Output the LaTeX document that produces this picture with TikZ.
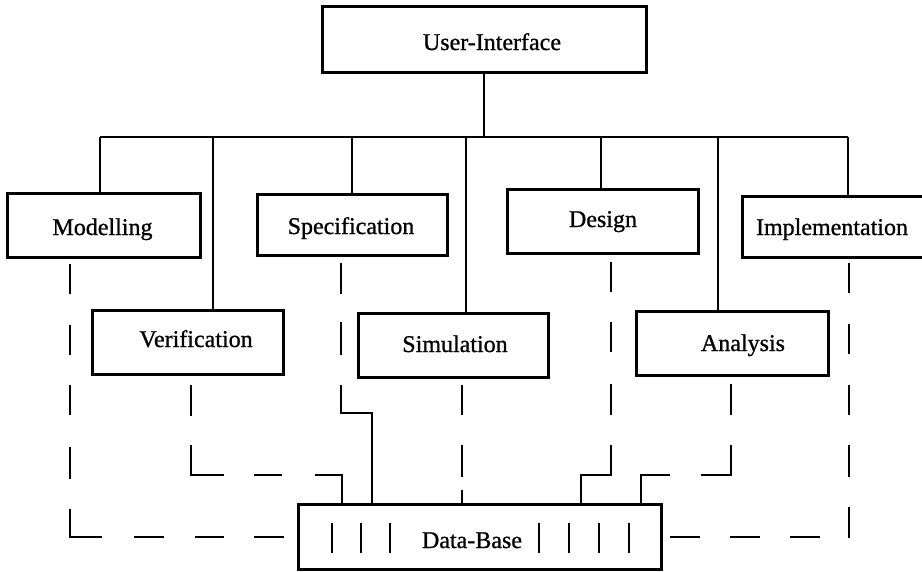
\documentclass[tikz,border=0pt]{standalone}
\usepackage{fontspec}
\setmainfont{Liberation Serif}
\newfontfamily\boxfont{Liberation Serif}[FakeBold=0.9]
\begin{document}
\begin{tikzpicture}[x=1pt,y=-1pt,
  box/.style={draw, line width=3pt, rectangle, inner sep=0pt},
  lbl/.style={anchor=base, inner sep=0pt, font=\boxfont\fontsize{24}{28}\selectfont},
  link/.style={line width=1.4pt},
  dlink/.style={line width=1.4pt, line cap=butt},
  tick/.style={line width=1.5pt}]
\useasboundingbox (0,0) rectangle (922,571);
\clip (0,0) rectangle (922,571);

% boxes
\node[box, minimum width=324pt, minimum height=66pt] (ui)  at (484,39)    {};
\node[box, minimum width=193pt, minimum height=64pt] (mod) at (103.5,225) {};
\node[box, minimum width=190pt, minimum height=61pt] (spe) at (352,224.5) {};
\node[box, minimum width=191pt, minimum height=64pt] (des) at (602.5,221) {};
\node[box, minimum width=213pt, minimum height=61pt] (imp) at (848.5,226.5) {};
\node[box, minimum width=191pt, minimum height=64pt] (ver) at (187.5,342) {};
\node[box, minimum width=190pt, minimum height=64pt] (sim) at (453,345)   {};
\node[box, minimum width=192pt, minimum height=64pt] (ana) at (732,343)   {};
\node[box, minimum width=363pt, minimum height=65pt] (db)  at (479.5,536.5) {};

% labels
\node[lbl] (ui-t)  at (492,50)    {User-Interface};
\node[lbl] (mod-t) at (102.5,235) {Modelling};
\node[lbl] (spe-t) at (351,234)   {Specification};
\node[lbl] (des-t) at (603,227)   {Design};
\node[lbl] (imp-t) at (832,235)   {Implementation};
\node[lbl] (ver-t) at (196,347)   {Verification};
\node[lbl] (sim-t) at (455,352)   {Simulation};
\node[lbl] (ana-t) at (743,351)   {Analysis};
\node[lbl] (db-t)  at (472,548)   {Data-Base};

% bus from the user interface to every tool
\coordinate (b-mod) at (100,137);
\coordinate (b-ver) at (213,137);
\coordinate (b-spe) at (352,137);
\coordinate (b-sim) at (466,137);
\coordinate (b-des) at (601,137);
\coordinate (b-ana) at (718,137);
\coordinate (b-imp) at (848,137);
\draw[link] (ui.south) -- (ui.south |- b-mod);
\draw[link] (b-mod) -- (b-imp);
\draw[link] (b-mod) -- (b-mod |- mod.north);
\draw[link] (b-ver) -- (b-ver |- ver.north);
\draw[link] (b-spe) -- (b-spe |- spe.north);
\draw[link] (b-sim) -- (b-sim |- sim.north);
\draw[link] (b-des) -- (b-des |- des.north);
\draw[link] (b-ana) -- (b-ana |- ana.north);
\draw[link] (b-imp) -- (b-imp |- imp.north);

% data links from every tool to the data base
\coordinate (c-mod) at (70,537);
\draw[dlink, dash pattern=on 0pt off 5pt on 30pt off 31pt on 30pt off 30pt on 30pt off 32pt on 32pt off 30pt on 60pt off 32pt on 30pt off 31pt on 29pt off 30pt on 30pt off 16pt]
  (c-mod |- mod.south) -- (c-mod) -- (c-mod -| db.west);

\coordinate (c-imp) at (849,537);
\draw[dlink, dash pattern=on 0pt off 4pt on 30pt off 31pt on 30pt off 31pt on 30pt off 30pt on 32pt off 30pt on 32pt off 28pt on 30pt off 30pt on 30pt off 30pt on 30pt off 10pt]
  (c-imp |- imp.south) -- (c-imp) -- (c-imp -| db.east);

\coordinate (c-ver) at (191,475);
\coordinate (e-ver) at (342,475);
\draw[dlink, dash pattern=on 0pt off 9pt on 31pt off 29pt on 63pt off 30pt on 28pt off 33pt on 58pt]
  (c-ver |- ver.south) -- (c-ver) -- (e-ver) -- (e-ver |- db.north);

\coordinate (c-spe) at (341,413);
\coordinate (e-spe) at (372,413);
\draw[dlink, dash pattern=on 0pt off 6pt on 31pt off 28pt on 33pt off 30pt on 152pt]
  (c-spe |- spe.south) -- (c-spe) -- (e-spe) -- (e-spe |- db.north);

\coordinate (c-sim) at (462,450);
\draw[dlink, dash pattern=on 0pt off 6pt on 30pt off 30pt on 32pt off 13pt on 16pt]
  (c-sim |- sim.south) -- (c-sim |- db.north);

\coordinate (c-des) at (611,475);
\coordinate (e-des) at (581,475);
\draw[dlink, dash pattern=on 0pt off 7pt on 30pt off 30pt on 30pt off 32pt on 31pt off 30pt on 91pt]
  (c-des |- des.south) -- (c-des) -- (e-des) -- (e-des |- db.north);

\coordinate (c-ana) at (731,475);
\coordinate (e-ana) at (641,475);
\draw[dlink, dash pattern=on 0pt off 7pt on 31pt off 30pt on 61pt off 31pt on 59pt]
  (c-ana |- ana.south) -- (c-ana) -- (e-ana) -- (e-ana |- db.north);

% record bars inside the data base
\foreach \x in {332,361,390,539,569,599,629}
  \draw[tick] (\x,523) -- (\x,553);
\end{tikzpicture}
\end{document}
